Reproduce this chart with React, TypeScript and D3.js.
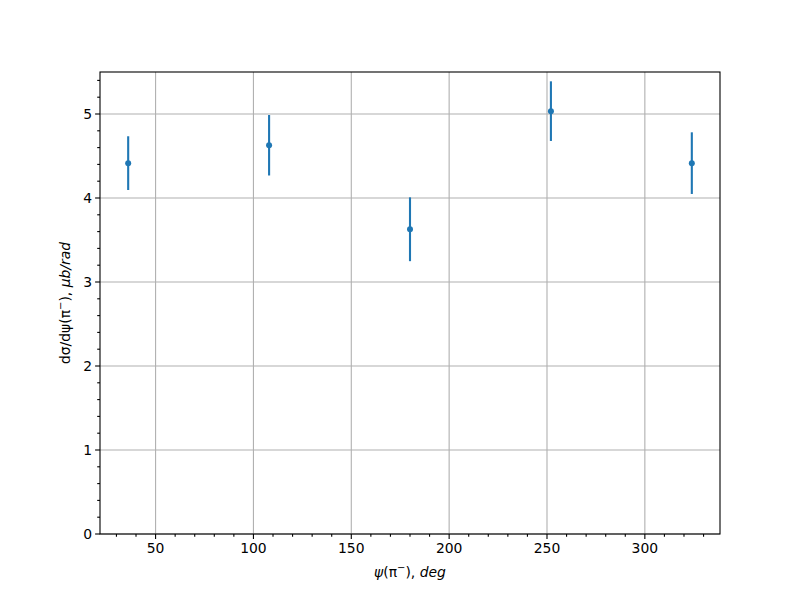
import React, { useEffect, useRef } from 'react';
import * as d3 from 'd3';

// psi bin centres (deg), cross section values and errors
const psi = [36, 108, 180, 252, 324];
const xsec = [4.415, 4.628, 3.628, 5.034, 4.415];
const xsecErr = [0.32, 0.36, 0.38, 0.355, 0.367];
const xTicks = [50, 100, 150, 200, 250, 300];
const yTicks = [0, 1, 2, 3, 4, 5];

const App: React.FC = () => {
  const svgRef = useRef<SVGSVGElement>(null);

  useEffect(() => {
    if (!svgRef.current) return;
    const width = 800;
    const height = 600;
    const margin = { top: 72, right: 80, bottom: 66, left: 100 };
    const font = "'DejaVu Sans', sans-serif";

    const svg = d3.select(svgRef.current).attr('viewBox', [0, 0, width, height]);
    svg.selectAll('*').remove();

    svg.append('rect').attr('width', width).attr('height', height).attr('fill', 'white');

    const x = d3.scaleLinear().domain([21.6, 338.4]).range([margin.left, width - margin.right]);
    const y = d3.scaleLinear().domain([0, 5.5]).range([height - margin.bottom, margin.top]);
    const x0 = margin.left, x1 = width - margin.right;
    const y0 = height - margin.bottom, y1 = margin.top;

    // grid
    const grid = svg.append('g').attr('stroke', '#b0b0b0').attr('stroke-width', 1.1);
    grid.selectAll('.gx').data(xTicks).enter().append('line')
      .attr('x1', d => x(d)).attr('x2', d => x(d)).attr('y1', y0).attr('y2', y1);
    grid.selectAll('.gy').data(yTicks).enter().append('line')
      .attr('x1', x0).attr('x2', x1).attr('y1', d => y(d)).attr('y2', d => y(d));

    // error bars
    const blue = '#1f77b4';
    const pts = psi.map((p, i) => ({ p, v: xsec[i], e: xsecErr[i] }));
    svg.append('g').selectAll('line').data(pts).enter().append('line')
      .attr('x1', d => x(d.p)).attr('x2', d => x(d.p))
      .attr('y1', d => y(d.v - d.e)).attr('y2', d => y(d.v + d.e))
      .attr('stroke', blue).attr('stroke-width', 2.1);
    svg.append('g').selectAll('circle').data(pts).enter().append('circle')
      .attr('cx', d => x(d.p)).attr('cy', d => y(d.v)).attr('r', 3).attr('fill', blue);

    // frame
    svg.append('rect').attr('x', x0).attr('y', y1).attr('width', x1 - x0).attr('height', y0 - y1)
      .attr('fill', 'none').attr('stroke', 'black').attr('stroke-width', 1.1);

    // ticks
    const ticks = svg.append('g').attr('stroke', 'black').attr('stroke-width', 1.1);
    const xMinor = d3.range(30, 340, 10).filter(d => d % 50 !== 0);
    const yMinor = d3.range(0.2, 5.5, 0.2).filter(d => Math.abs(d - Math.round(d)) > 0.01);
    ticks.selectAll('.xt').data(xTicks).enter().append('line')
      .attr('x1', d => x(d)).attr('x2', d => x(d)).attr('y1', y0).attr('y2', y0 + 4.9);
    ticks.selectAll('.xm').data(xMinor).enter().append('line')
      .attr('x1', d => x(d)).attr('x2', d => x(d)).attr('y1', y0).attr('y2', y0 + 2.8);
    ticks.selectAll('.yt').data(yTicks).enter().append('line')
      .attr('x1', x0 - 4.9).attr('x2', x0).attr('y1', d => y(d)).attr('y2', d => y(d));
    ticks.selectAll('.ym').data(yMinor).enter().append('line')
      .attr('x1', x0 - 2.8).attr('x2', x0).attr('y1', d => y(d)).attr('y2', d => y(d));

    svg.append('g').selectAll('text').data(xTicks).enter().append('text')
      .attr('x', d => x(d)).attr('y', y0 + 19).attr('text-anchor', 'middle')
      .attr('font-family', font).attr('font-size', 13.9).text(d => d);
    svg.append('g').selectAll('text').data(yTicks).enter().append('text')
      .attr('x', x0 - 8).attr('y', d => y(d) + 5).attr('text-anchor', 'end')
      .attr('font-family', font).attr('font-size', 13.9).text(d => d);

    // x label
    const xl = svg.append('text').attr('x', (x0 + x1) / 2).attr('y', 577)
      .attr('text-anchor', 'middle').attr('font-family', font).attr('font-size', 13.9);
    xl.append('tspan').attr('font-style', 'italic').text('ψ');
    xl.append('tspan').text('(π');
    xl.append('tspan').attr('font-size', 10).attr('dy', -6).text('−');
    xl.append('tspan').attr('dy', 6).text('), ');
    xl.append('tspan').attr('font-style', 'italic').text('deg');

    // y label
    const yl = svg.append('text')
      .attr('transform', `translate(70,${(y0 + y1) / 2}) rotate(-90)`)
      .attr('text-anchor', 'middle').attr('font-family', font).attr('font-size', 13.9);
    yl.append('tspan').text('dσ/dψ(π');
    yl.append('tspan').attr('font-size', 10).attr('dy', -6).text('−');
    yl.append('tspan').attr('dy', 6).text('), ');
    yl.append('tspan').attr('font-style', 'italic').text('μb/rad');
  }, []);

  return (
    <svg ref={svgRef} width={800} height={600}
      style={{ display: 'block', position: 'absolute', left: 0, top: 0 }}></svg>
  );
};

export default App;
